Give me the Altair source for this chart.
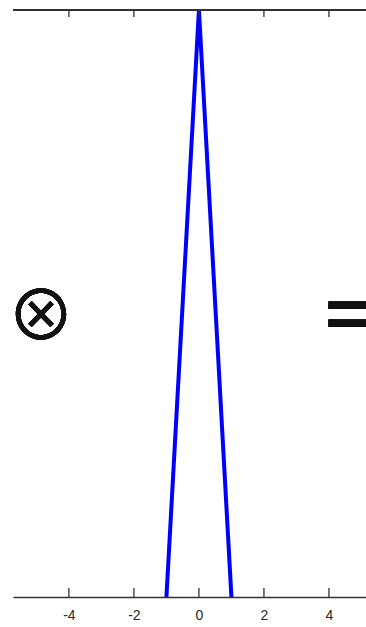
import altair as alt
import pandas as pd

# Triangle (tent) function: rises from -1 to a peak of 1 at 0, back to 0 at 1
tri_x = [-1.0, 0.0, 1.0]
tri_y = [0.0, 1.0, 0.0]

# Tick positions along the x axis
tick_values = [-4, -2, 0, 2, 4]

x_domain = [-5.72, 5.14]
W, H = 353, 587

tri = pd.DataFrame({"x": tri_x, "y": tri_y})
ticks = pd.DataFrame({"t": tick_values})

x_scale = alt.Scale(domain=x_domain, nice=False, zero=False)
y_scale = alt.Scale(domain=[0, 1], nice=False)

line = alt.Chart(tri).mark_line(color="#0000ff", strokeWidth=4, clip=True).encode(
    x=alt.X("x:Q", scale=x_scale,
            axis=alt.Axis(values=tick_values, title=None, grid=False, ticks=False,
                          domainColor="#333333", domainWidth=1.3,
                          labelExpr="'' + datum.value",
                          labelFont="Liberation Sans", labelFontSize=14,
                          labelColor="#2a2a2a", labelPadding=11)),
    y=alt.Y("y:Q", scale=y_scale, axis=None),
)

bottom_ticks = alt.Chart(ticks).mark_rule(color="#333333", strokeWidth=1.3).encode(
    x=alt.X("t:Q", scale=x_scale),
    y=alt.value(H - 9),
    y2=alt.value(H),
)

top_ticks = alt.Chart(ticks).mark_rule(color="#333333", strokeWidth=1.3).encode(
    x=alt.X("t:Q", scale=x_scale),
    y=alt.value(0),
    y2=alt.value(7),
)

top_line = alt.Chart(ticks).mark_rule(color="#333333", strokeWidth=1.3).encode(
    x=alt.value(0), x2=alt.value(W), y=alt.value(0)
)

otimes = alt.Chart(ticks).mark_text(
    text="⊗", font="Noto Sans CJK JP", fontSize=68, fontWeight=400, color="#111111",
    align="center", baseline="middle"
).encode(x=alt.value(28), y=alt.value(309.5))

equals = alt.Chart(ticks).mark_text(
    text="=", font="DejaVu Sans", fontSize=90, color="#111111",
    align="left", baseline="middle", clip=False
).encode(x=alt.value(306), y=alt.value(306))

chart = alt.layer(line, bottom_ticks, top_ticks, top_line, otimes, equals).properties(
    width=W, height=H,
    padding={"left": 13, "top": 10, "right": 0, "bottom": 30},
    autosize=alt.AutoSizeParams(type="none"),
).configure_view(stroke=None)

chart.save("out.html", embed_options={"renderer": "svg", "actions": False})
